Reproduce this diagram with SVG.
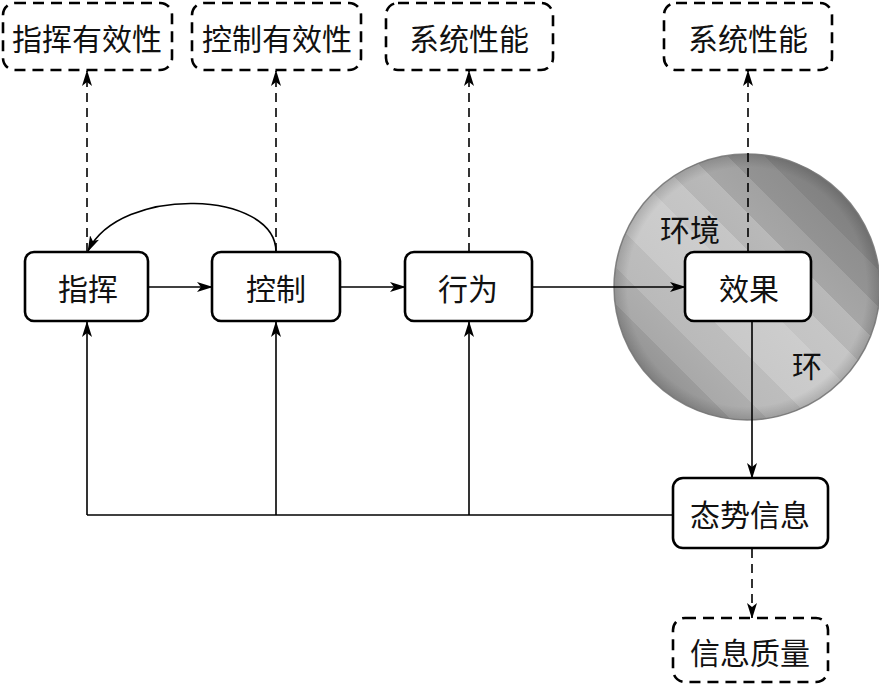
<svg xmlns="http://www.w3.org/2000/svg" width="879" height="685" viewBox="0 0 879 685">
<style>
.box{fill:#fff;stroke:#000;stroke-width:2.6}
.dbox{fill:#fff;stroke:#000;stroke-width:2.6;stroke-dasharray:11 7}
.t{font-family:"Noto Sans CJK SC","Noto Sans",sans-serif;font-size:30px;fill:#111;text-anchor:middle;dominant-baseline:central}
.ln{fill:none;stroke:#000;stroke-width:1.6}
.dl{fill:none;stroke:#000;stroke-width:1.6;stroke-dasharray:9 6}
</style>
<defs>
<marker id="ah" viewBox="0 0 16 10" refX="15" refY="5" markerWidth="16" markerHeight="10" markerUnits="userSpaceOnUse" orient="auto">
<path d="M0,0 L16,5 L0,10 L4,5 Z" fill="#000"/>
</marker>
<linearGradient id="stripes" x1="0.15" y1="0.85" x2="0.85" y2="0.15" gradientUnits="objectBoundingBox">
<stop offset="0" stop-color="#939393"/>
<stop offset="0.1" stop-color="#9c9c9c"/>
<stop offset="0.1" stop-color="#a9a9a9"/>
<stop offset="0.2" stop-color="#aeaeae"/>
<stop offset="0.2" stop-color="#bababa"/>
<stop offset="0.32" stop-color="#bdbdbd"/>
<stop offset="0.32" stop-color="#c9c9c9"/>
<stop offset="0.5" stop-color="#cdcdcd"/>
<stop offset="0.5" stop-color="#c4c4c4"/>
<stop offset="0.6" stop-color="#c6c6c6"/>
<stop offset="0.6" stop-color="#b6b6b6"/>
<stop offset="0.7" stop-color="#b9b9b9"/>
<stop offset="0.7" stop-color="#a6a6a6"/>
<stop offset="0.8" stop-color="#a2a2a2"/>
<stop offset="0.8" stop-color="#939393"/>
<stop offset="0.9" stop-color="#8f8f8f"/>
<stop offset="0.9" stop-color="#858585"/>
<stop offset="1" stop-color="#808080"/>
</linearGradient>
<radialGradient id="edge" cx="0.5" cy="0.5" r="0.5">
<stop offset="0.9" stop-color="#000" stop-opacity="0"/>
<stop offset="1" stop-color="#000" stop-opacity="0.15"/>
</radialGradient>
</defs>

<g id="env">
<circle cx="747" cy="287" r="133" fill="url(#stripes)" stroke="#8a8a8a" stroke-width="1.5"/>
<circle cx="747" cy="287" r="133" fill="url(#edge)"/>
<text class="t" x="690" y="228" font-size="27">环境</text>
<text class="t" x="807" y="364" font-size="27">环</text>
</g>

<g id="connectors">
<line class="ln" x1="148" y1="287" x2="212" y2="287" marker-end="url(#ah)"/>
<line class="ln" x1="340" y1="287" x2="405" y2="287" marker-end="url(#ah)"/>
<line class="ln" x1="532" y1="287" x2="685" y2="287" marker-end="url(#ah)"/>
<path class="ln" d="M276,252 C276,190 120,185 88,251" marker-end="url(#ah)"/>
<line class="dl" x1="87" y1="252" x2="87" y2="71" marker-end="url(#ah)"/>
<line class="dl" x1="276" y1="252" x2="276" y2="71" marker-end="url(#ah)"/>
<line class="dl" x1="469" y1="252" x2="469" y2="71" marker-end="url(#ah)"/>
<line class="dl" x1="748" y1="252" x2="748" y2="71" marker-end="url(#ah)"/>
<line class="ln" x1="752" y1="321" x2="752" y2="478" marker-end="url(#ah)"/>
<path class="ln" d="M673,515 H87"/>
<line class="ln" x1="87" y1="515" x2="87" y2="322" marker-end="url(#ah)"/>
<line class="ln" x1="276" y1="515" x2="276" y2="322" marker-end="url(#ah)"/>
<line class="ln" x1="469" y1="515" x2="469" y2="322" marker-end="url(#ah)"/>
<line class="dl" x1="752" y1="549" x2="752" y2="618" marker-end="url(#ah)"/>
</g>

<g id="n1"><rect class="dbox" x="3" y="3" width="169" height="67" rx="12"/><text class="t" x="87" y="37">指挥有效性</text></g>
<g id="n2"><rect class="dbox" x="192" y="3" width="169" height="67" rx="12"/><text class="t" x="277" y="37">控制有效性</text></g>
<g id="n3"><rect class="dbox" x="386" y="3" width="167" height="67" rx="12"/><text class="t" x="469" y="37">系统性能</text></g>
<g id="n4"><rect class="dbox" x="664" y="3" width="168" height="67" rx="12"/><text class="t" x="748" y="37">系统性能</text></g>

<g id="zhihui"><rect class="box" x="25" y="252" width="123" height="69" rx="9"/><text class="t" x="88" y="287">指挥</text></g>
<g id="kongzhi"><rect class="box" x="212" y="252" width="128" height="69" rx="9"/><text class="t" x="276" y="287">控制</text></g>
<g id="xingwei"><rect class="box" x="405" y="252" width="127" height="69" rx="9"/><text class="t" x="468" y="287">行为</text></g>
<g id="xiaoguo"><rect class="box" x="685" y="252" width="126" height="69" rx="9"/><text class="t" x="749" y="287">效果</text></g>
<g id="taishi"><rect class="box" x="673" y="478" width="155" height="70" rx="10"/><text class="t" x="750" y="513">态势信息</text></g>
<g id="zhiliang"><rect class="dbox" x="673" y="618" width="155" height="64" rx="12"/><text class="t" x="750" y="651">信息质量</text></g>
</svg>
